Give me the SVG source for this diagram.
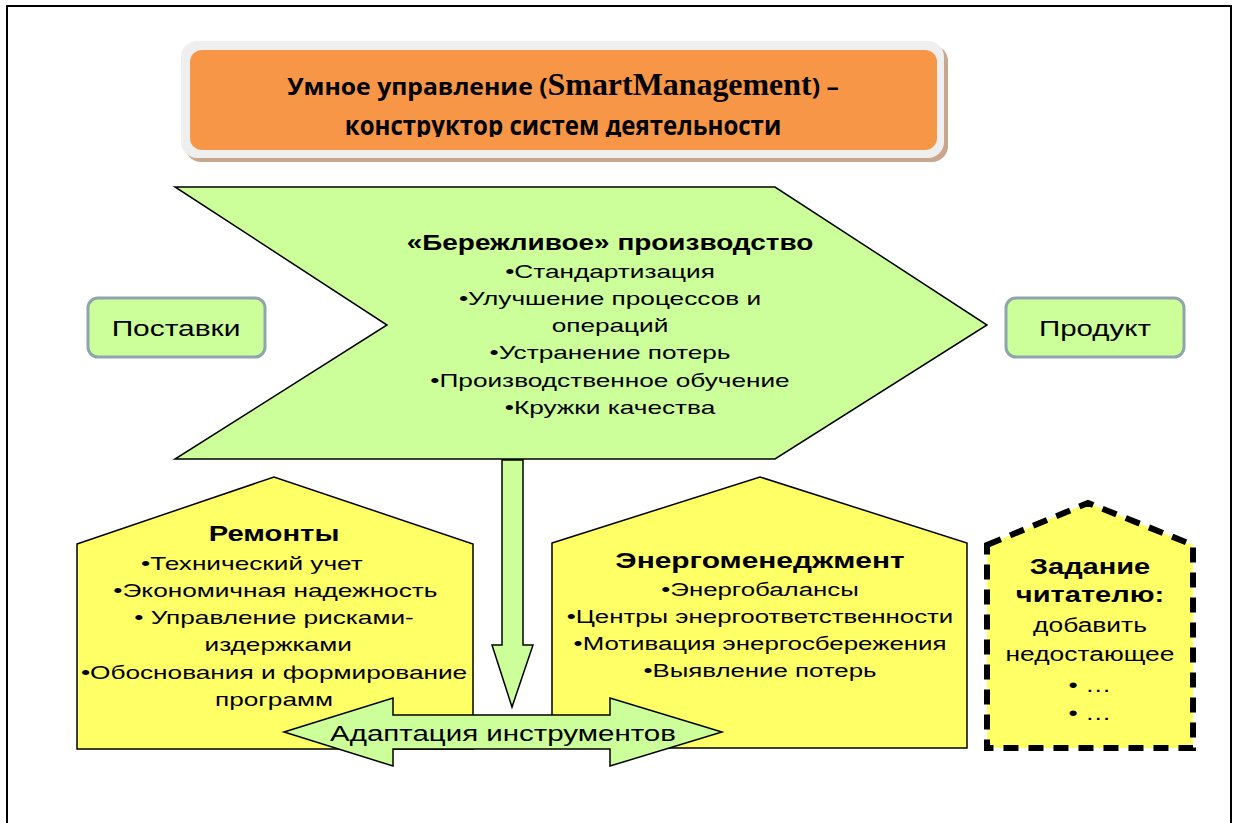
<svg xmlns="http://www.w3.org/2000/svg" width="1234" height="823" viewBox="0 0 1234 823">
<style>
.t{font-family:"Liberation Sans",Arial,sans-serif;fill:#000;text-anchor:middle}
.o{font-family:"Open Sans",sans-serif;font-weight:bold;fill:#000;text-anchor:middle}
.b{font-weight:bold}
.g{fill:#ccff99;stroke:#000;stroke-width:1.5}
.y{fill:#ffff66;stroke:#000;stroke-width:1.5}
.box{fill:#ccff99;stroke:#8fa5ad;stroke-width:3}
</style>
<defs>
<clipPath id="tclip"><rect x="190" y="50" width="747" height="87"/></clipPath>
</defs>
<rect x="0" y="0" width="1234" height="823" fill="#fff"/>
<rect x="7" y="6" width="1224" height="830" fill="none" stroke="#000" stroke-width="2"/>

<g id="title">
<rect x="185" y="45" width="763" height="117" rx="16" fill="#c9a78c"/>
<rect x="181" y="41" width="763" height="117" rx="16" fill="#efefef"/>
<rect x="190" y="50" width="747" height="100" rx="12" fill="#f79646"/>
<g clip-path="url(#tclip)">
<text class="o" x="0" y="95" font-size="24" transform="translate(563,0) scale(1.03,1)"><tspan>Умное управление (</tspan><tspan style="font-family:'Liberation Serif',serif" font-size="31">SmartManagement</tspan><tspan>) –</tspan></text>
<text class="o" x="0" y="135" font-size="27" transform="translate(563,0) scale(0.89,1)">конструктор систем деятельности</text>
</g>
</g>

<g id="lean">
<polygon class="g" points="175,187 775,187 987,325 775,459 175,459 387,325"/>
<text class="t b" x="0" y="250" font-size="22" transform="translate(610,0) scale(1.27,1)">«Бережливое» производство</text>
<text class="t" x="0" font-size="19" transform="translate(610,0) scale(1.38,1)"><tspan x="0" y="278">•Стандартизация</tspan><tspan x="0" y="305">•Улучшение процессов и</tspan><tspan x="0" y="332">операций</tspan><tspan x="0" y="359">•Устранение потерь</tspan><tspan x="0" y="387">•Производственное обучение</tspan><tspan x="0" y="414">•Кружки качества</tspan></text>
</g>

<g id="supply">
<rect class="box" x="88" y="298" width="177" height="59" rx="10"/>
<text class="t" x="0" y="336" font-size="22" transform="translate(176,0) scale(1.36,1)">Поставки</text>
</g>

<g id="product">
<rect class="box" x="1006" y="298" width="178" height="59" rx="10"/>
<text class="t" x="0" y="336" font-size="22" transform="translate(1095,0) scale(1.34,1)">Продукт</text>
</g>

<g id="repairs">
<polygon class="y" points="77,544 274,477 473,544 473,749 77,749"/>
<text class="t b" x="0" y="541" font-size="22" transform="translate(274,0) scale(1.33,1)">Ремонты</text>
<text class="t" font-size="19" transform="translate(274,0) scale(1.38,1)"><tspan x="-16" y="570">•Технический учет</tspan><tspan x="1" y="597">•Экономичная надежность</tspan><tspan x="0" y="624">• Управление рисками-</tspan><tspan x="3" y="651">издержками</tspan><tspan x="0" y="679">•Обоснования и формирование</tspan><tspan x="0" y="706">программ</tspan></text>
</g>

<g id="energy">
<polygon class="y" points="552,543 760,477 967,543 967,748 552,748"/>
<text class="t b" x="0" y="568" font-size="22" transform="translate(760,0) scale(1.36,1)">Энергоменеджмент</text>
<text class="t" font-size="19" transform="translate(760,0) scale(1.36,1)"><tspan x="0" y="596">•Энергобалансы</tspan><tspan x="0" y="623">•Центры энергоответственности</tspan><tspan x="0" y="650">•Мотивация энергосбережения</tspan><tspan x="0" y="677">•Выявление потерь</tspan></text>
</g>

<g id="task">
<polygon points="987,545 1088,503 1193,545 1193,748 987,748" fill="#ffff66" stroke="#000" stroke-width="6" stroke-dasharray="15,10"/>
<g transform="translate(1090,0) scale(1.32,1)">
<text class="t b" x="0" y="574" font-size="22">Задание</text>
<text class="t b" x="0" y="602" font-size="22">читателю:</text>
<text class="t" x="0" y="632" font-size="20">добавить</text>
<text class="t" x="0" y="661" font-size="20">недостающее</text>
<text class="t" x="0" y="692" font-size="20">• …</text>
<text class="t" x="0" y="720" font-size="20">• …</text>
</g>
</g>

<g id="connectors">
<polygon class="g" points="502,460 523,460 523,645 533,645 512,707 492,645 502,645"/>
<g id="adapt">
<polygon class="g" points="284,732 393,698 393,715 610,715 610,698 722,732 610,766 610,749 393,749 393,766"/>
<text class="t" x="0" y="741" font-size="22" transform="translate(503,0) scale(1.34,1)">Адаптация инструментов</text>
</g>
</g>
</svg>
